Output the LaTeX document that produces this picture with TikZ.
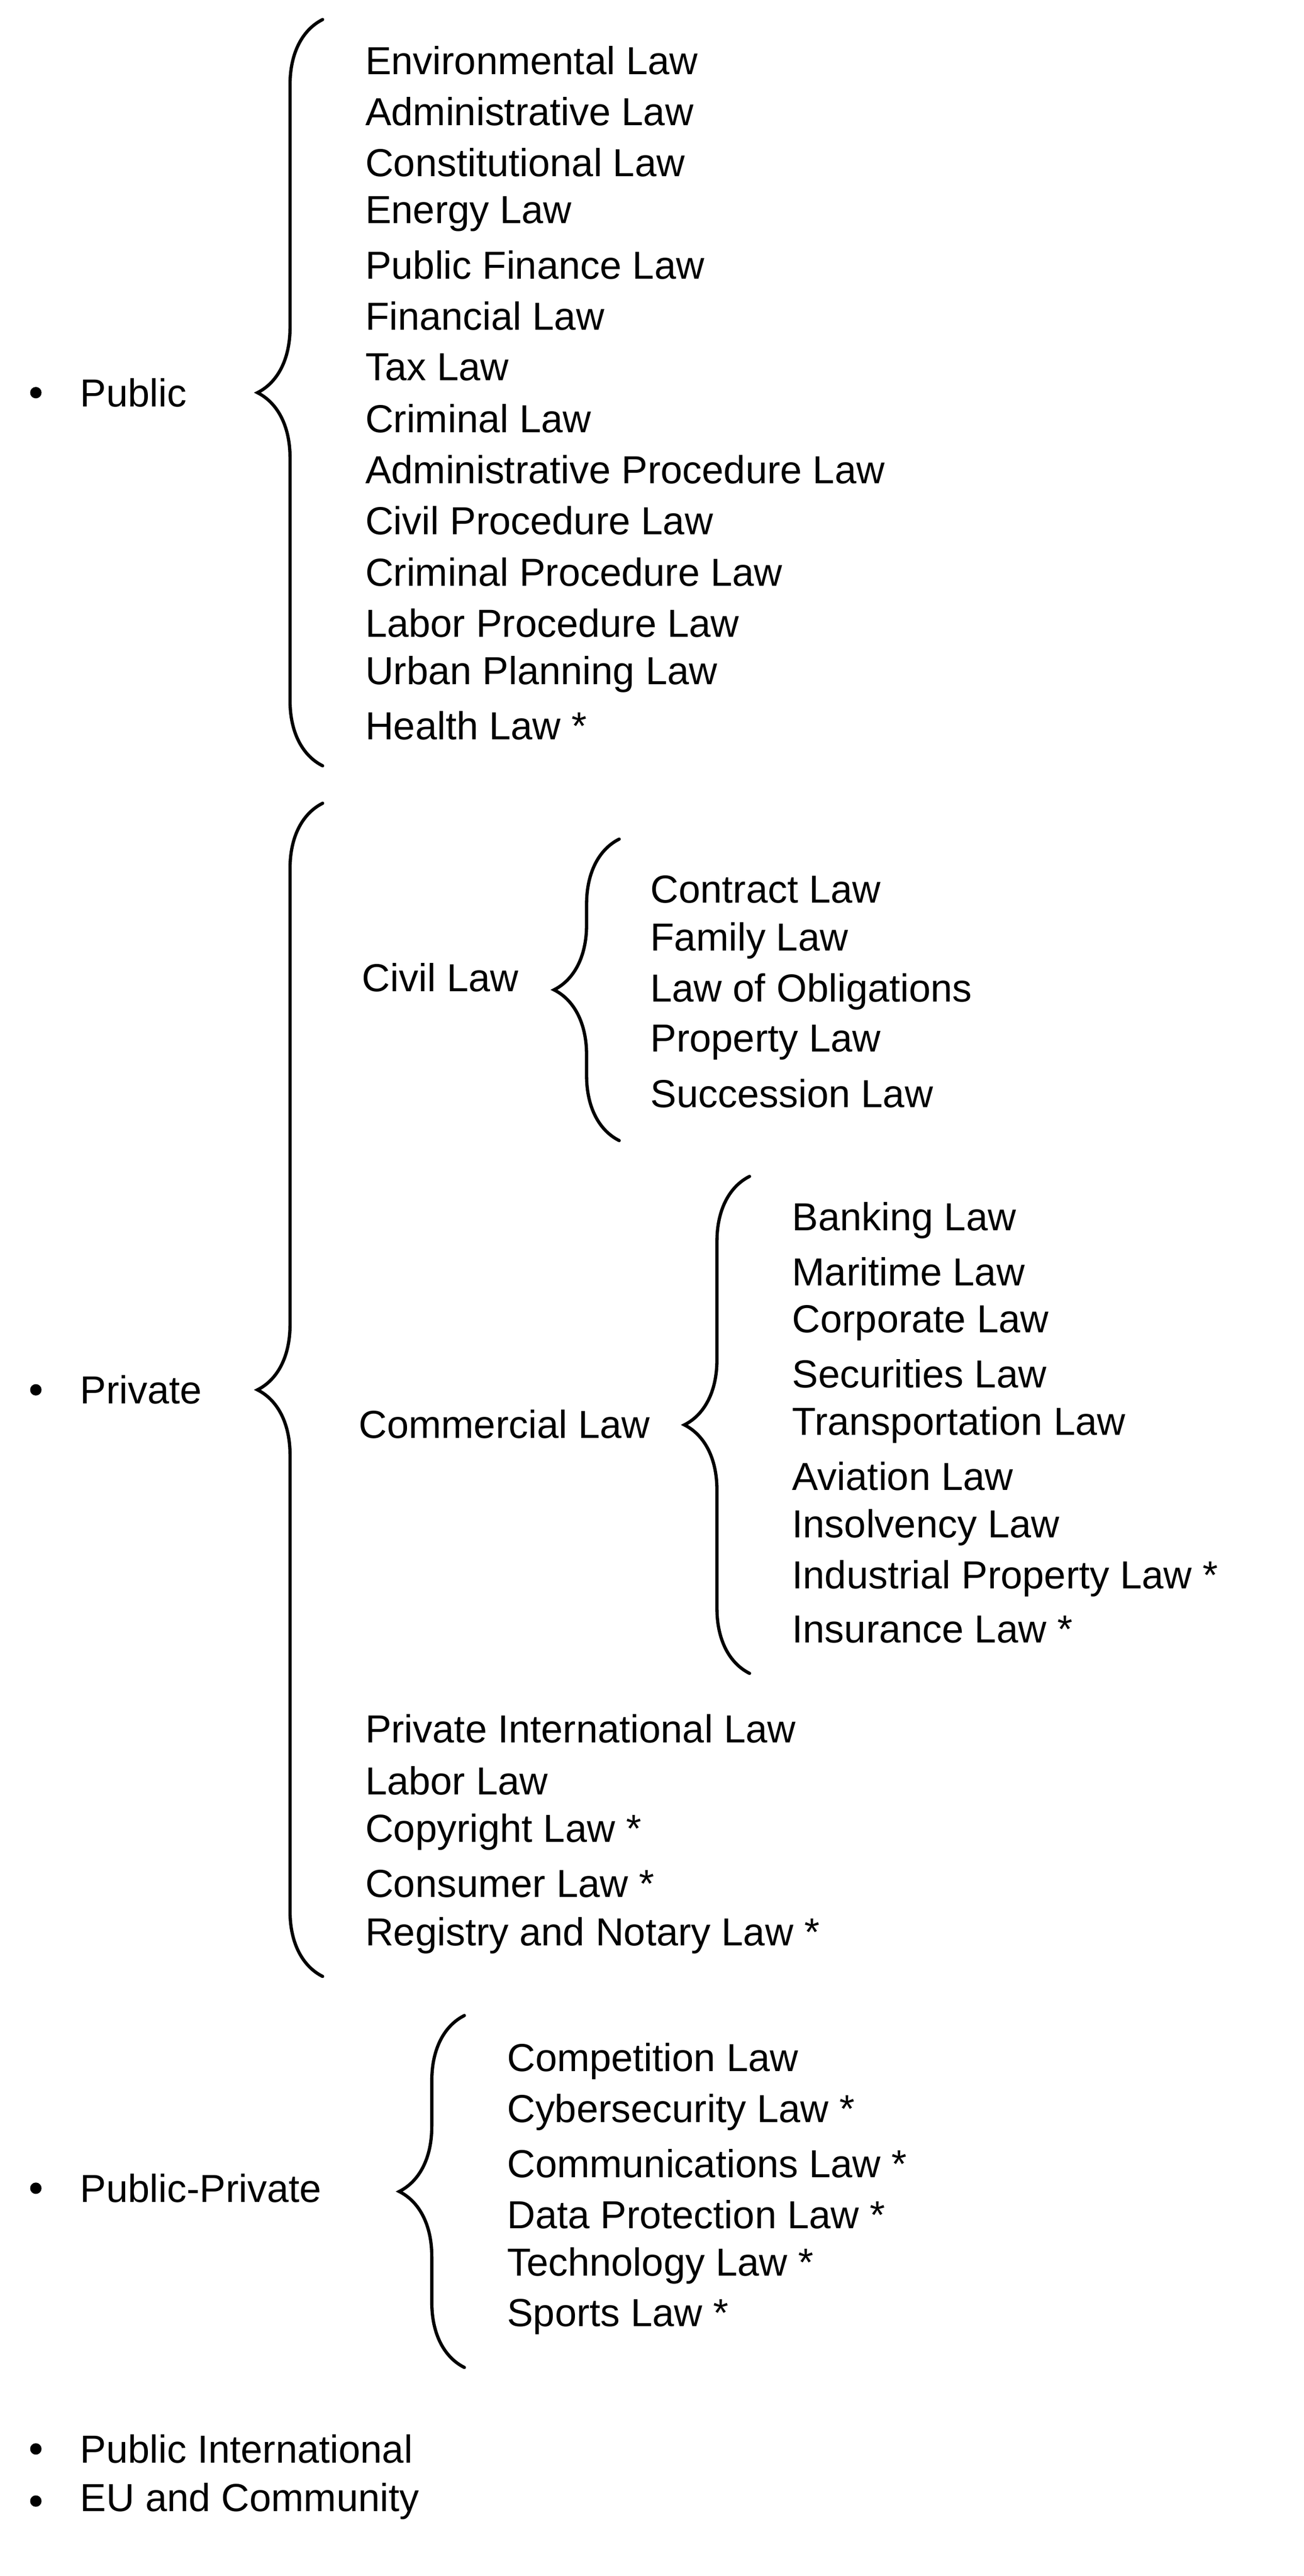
\documentclass[tikz,border=0pt]{standalone}
\usepackage{fontspec}
\setmainfont{Liberation Sans}
\usetikzlibrary{decorations.pathreplacing}
\begin{document}
\begin{tikzpicture}[x=1pt,y=-1pt,
  lbl/.style={anchor=west,inner sep=0pt,font=\fontsize{24}{28}\selectfont},
  brc/.style={draw,line width=2pt,line cap=round,decorate,decoration={brace,amplitude=40pt,aspect=0.5}}]
\useasboundingbox (0,0) rectangle (800,1581);
% bullets
\foreach \n/\t/\y in {pub/Public/241,pri/Private/853,pp/Public-Private/1343,pi/Public International/1503,eu/EU and Community/1535}{
  \fill (22,\y) circle (3.5);
  \node[lbl] (\n) at (49,\y) {\t};
}
% Public
\foreach \t [count=\i from 0] in {Environmental Law,Administrative Law,Constitutional Law,Energy Law,Public Finance Law,Financial Law,Tax Law,Criminal Law,Administrative Procedure Law,Civil Procedure Law,Criminal Procedure Law,Labor Procedure Law,Urban Planning Law,Health Law *}
  \node[lbl] (pub\i) at (224,37+\i*31.4) {\t};
\coordinate (pubT) at (198,12); \coordinate (pubB) at (198,470);
\draw[brc] (pubB) -- (pubT);
% Private
\coordinate (priT) at (198,493); \coordinate (priB) at (198,1213);
\draw[brc] (priB) -- (priT);
\node[lbl] (civ) at (222,600) {Civil Law};
\foreach \t [count=\i from 0] in {Contract Law,Family Law,Law of Obligations,Property Law,Succession Law}
  \node[lbl] (civ\i) at (399,546+\i*31.25) {\t};
\coordinate (civT) at (380,515); \coordinate (civB) at (380,700);
\draw[brc] (civB) -- (civT);
\node[lbl] (com) at (220,874) {Commercial Law};
\foreach \t [count=\i from 0] in {Banking Law,Maritime Law,Corporate Law,Securities Law,Transportation Law,Aviation Law,Insolvency Law,Industrial Property Law *,Insurance Law *}
  \node[lbl] (com\i) at (486,749+\i*31.4) {\t};
\coordinate (comT) at (460,722); \coordinate (comB) at (460,1027);
\draw[brc] (comB) -- (comT);
\foreach \t [count=\i from 0] in {Private International Law,Labor Law,Copyright Law *,Consumer Law *,Registry and Notary Law *}
  \node[lbl] (oth\i) at (224,1061+\i*31.75) {\t};
% Public-Private
\foreach \t [count=\i from 0] in {Competition Law,Cybersecurity Law *,Communications Law *,Data Protection Law *,Technology Law *,Sports Law *}
  \node[lbl] (pp\i) at (311,1265+\i*31.4) {\t};
\coordinate (ppT) at (285,1237); \coordinate (ppB) at (285,1453);
\draw[brc] (ppB) -- (ppT);
\end{tikzpicture}
\end{document}
